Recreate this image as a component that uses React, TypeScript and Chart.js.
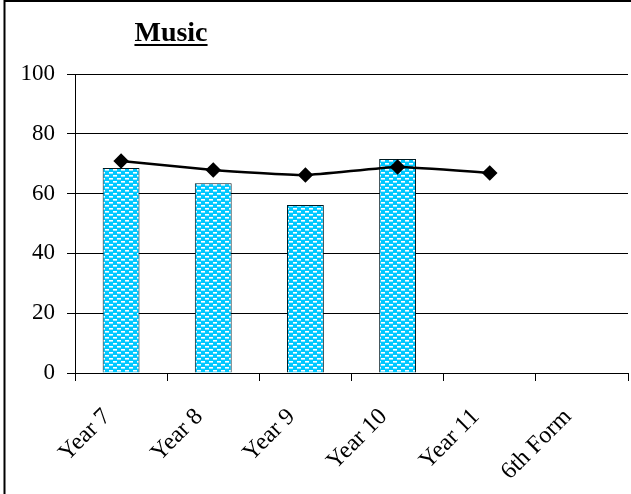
import React, { useEffect, useRef } from "react";
import { Chart, registerables } from "chart.js";

Chart.register(...registerables);

const categories = ["Year 7", "Year 8", "Year 9", "Year 10", "Year 11", "6th Form"];
const barValues = [68.6, 63.5, 56.2, 71.6, null, null];
const lineValues = [70.9, 67.9, 66.2, 68.9, 66.9, null];
const yTicks = [0, 20, 40, 60, 80, 100];
const titleText = "Music";

const FONT = "'Liberation Serif', 'Times New Roman', serif";

function makePattern(): CanvasPattern | string {
  const c = document.createElement("canvas");
  c.width = 8;
  c.height = 6;
  const g = c.getContext("2d");
  if (!g) return "#00CCFF";
  g.fillStyle = "#00C8FF";
  g.fillRect(0, 0, 8, 6);
  g.fillStyle = "#FFFFFF";
  g.fillRect(1, 1, 4, 1);
  g.fillRect(5, 4, 3, 1);
  g.fillRect(0, 4, 1, 1);
  g.fillStyle = "#9BE6FF";
  g.fillRect(1, 2, 4, 1);
  g.fillRect(5, 5, 3, 1);
  g.fillRect(0, 5, 1, 1);
  return g.createPattern(c, "repeat") || "#00CCFF";
}

const framePlugin = {
  id: "frame",
  afterDraw(chart: any) {
    const ctx = chart.ctx;
    const area = chart.chartArea;
    ctx.save();
    ctx.strokeStyle = "#000";
    ctx.lineWidth = 2;
    ctx.beginPath();
    ctx.moveTo(4.5, chart.height);
    ctx.lineTo(4.5, 1);
    ctx.lineTo(chart.width, 1);
    ctx.stroke();
    ctx.font = `bold 28px ${FONT}`;
    ctx.fillStyle = "#000";
    ctx.textAlign = "center";
    ctx.textBaseline = "alphabetic";
    const cx = area.left + 96;
    const by = area.top - 33;
    ctx.fillText(titleText, cx, by);
    const w = ctx.measureText(titleText).width;
    ctx.fillRect(cx - w / 2, by + 3, w, 2);
    ctx.restore();
  },
};

export default function App() {
  const ref = useRef<HTMLCanvasElement | null>(null);
  useEffect(() => {
    document.body.style.margin = "0";
    const canvas = ref.current;
    if (!canvas) return;
    const chart = new Chart(canvas, {
      data: {
        labels: categories,
        datasets: [
          {
            type: "line",
            data: lineValues,
            borderColor: "#000",
            backgroundColor: "#000",
            borderWidth: 2.5,
            pointStyle: "rectRot",
            pointRadius: 6,
            pointBackgroundColor: "#000",
            pointBorderColor: "#000",
            tension: 0.15,
            order: 0,
          } as any,
          {
            type: "bar",
            data: barValues,
            backgroundColor: makePattern() as any,
            borderColor: "#001a22",
            borderWidth: 1,
            barPercentage: 0.4,
            categoryPercentage: 1,
            order: 1,
          } as any,
        ],
      },
      options: {
        animation: false,
        responsive: false,
        devicePixelRatio: 1,
        layout: { padding: { top: 74, right: 3, left: 0, bottom: 0 }, autoPadding: false } as any,
        plugins: { legend: { display: false }, tooltip: { enabled: false }, title: { display: false } },
        scales: {
          x: {
            offset: true,
            grid: { display: true, drawOnChartArea: false, tickLength: 8, color: "#000", offset: true },
            border: { color: "#000", width: 1 },
            ticks: {
              color: "#000",
              font: { family: FONT, size: 24 },
              minRotation: 45,
              maxRotation: 45,
              autoSkip: false,
              labelOffset: -14,
              padding: 22,
            },
            afterFit(s: any) {
              s.height = 121;
            },
          },
          y: {
            min: 0,
            max: 100,
            afterBuildTicks(s: any) {
              s.ticks = yTicks.map((v) => ({ value: v }));
            },
            grid: { color: "#000", tickLength: 8, lineWidth: 1 },
            border: { color: "#000", width: 1 },
            ticks: { color: "#000", font: { family: FONT, size: 23 }, padding: 12 },
            afterFit(s: any) {
              s.width = 75;
            },
          },
        },
      },
      plugins: [framePlugin],
    } as any);
    return () => chart.destroy();
  }, []);
  return <canvas ref={ref} width={631} height={494} style={{ display: "block" }} />;
}
